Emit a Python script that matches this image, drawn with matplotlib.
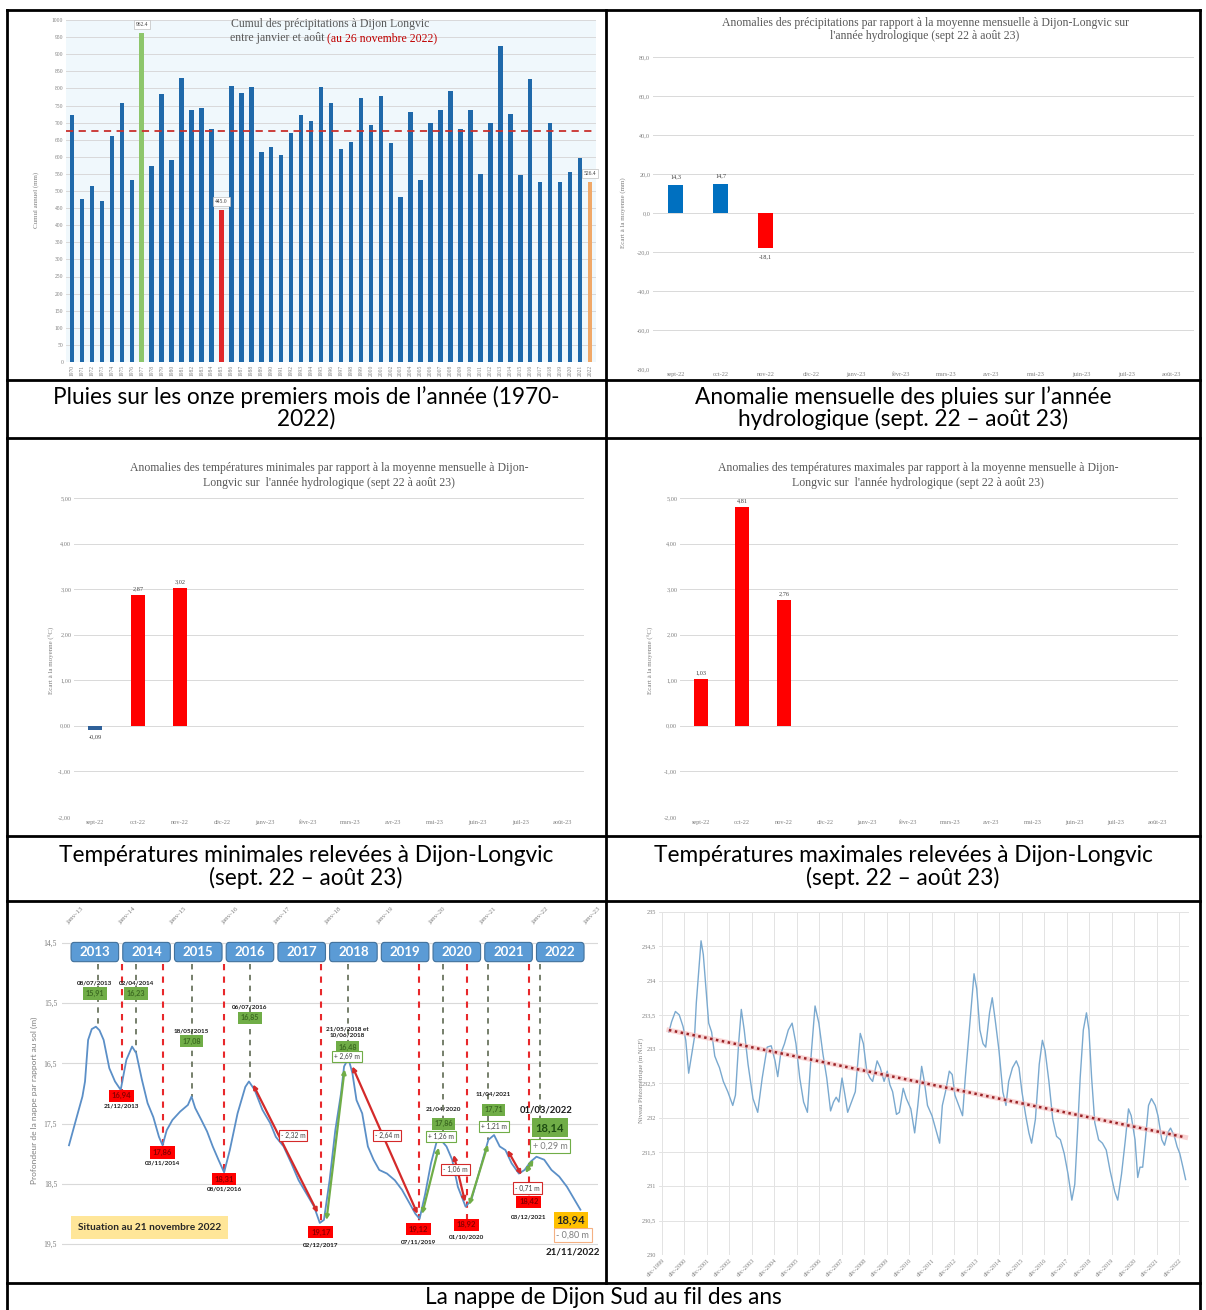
import numpy as np
import matplotlib.pyplot as plt
from matplotlib.patches import FancyBboxPatch
from matplotlib.lines import Line2D

W, H = 1206, 1310
plt.rcParams['font.family'] = ['Liberation Serif', 'DejaVu Serif']

# ---------- données ----------
annees = list(range(1970, 2023))
cumul_pluie = [722, 477, 515, 472, 660, 756, 533, 962.4, 574, 783,
               590, 829, 738, 742, 682, 445.0, 807, 788, 805, 615,
               629, 605, 671, 723, 704, 805, 756, 622, 644, 771,
               692, 778, 641, 482, 732, 533, 699, 737, 793, 682,
               737, 549, 699, 923, 725, 547, 827, 526, 699, 526,
               557, 597, 526.4]

mois = ["sept-22", "oct-22", "nov-22", "déc-22", "janv-23", "févr-23",
        "mars-23", "avr-23", "mai-23", "juin-23", "juil-23", "août-23"]
anom_pluie = [14.3, 14.7, -18.1]
anom_tmin = [-0.09, 2.87, 3.02]
anom_tmax = [1.03, 4.81, 2.76]

# nappe de Dijon Sud : profondeur (m) 2013-2022
nappe_t = [2013.00, 2013.15, 2013.26, 2013.31, 2013.37, 2013.44, 2013.52, 2013.59, 2013.67, 2013.78,
           2013.89, 2014.00, 2014.11, 2014.22, 2014.30, 2014.41, 2014.52, 2014.63, 2014.74, 2014.81,
           2014.89, 2015.00, 2015.15, 2015.30, 2015.37, 2015.44, 2015.56, 2015.67, 2015.78, 2015.89,
           2016.00, 2016.11, 2016.26, 2016.41, 2016.48, 2016.59, 2016.74, 2016.89, 2017.00, 2017.15,
           2017.30, 2017.44, 2017.59, 2017.74, 2017.85, 2017.93, 2018.04, 2018.15, 2018.26, 2018.32,
           2018.37, 2018.42, 2018.48, 2018.56, 2018.67, 2018.78, 2018.89, 2019.00, 2019.15, 2019.30,
           2019.44, 2019.59, 2019.70, 2019.78, 2019.89, 2020.00, 2020.11, 2020.19, 2020.30, 2020.41,
           2020.52, 2020.67, 2020.78, 2020.89, 2021.00, 2021.11, 2021.22, 2021.33, 2021.44, 2021.56,
           2021.70, 2021.81, 2021.93, 2022.04, 2022.19, 2022.33, 2022.48, 2022.63, 2022.78, 2022.89]
nappe_prof = [17.86, 17.39, 17.05, 16.80, 16.11, 15.93, 15.89, 15.95, 16.11, 16.58,
              16.80, 16.94, 16.44, 16.22, 16.33, 16.77, 17.16, 17.39, 17.72, 17.86,
              17.61, 17.44, 17.30, 17.19, 17.05, 17.24, 17.44, 17.63, 17.88, 18.10,
              18.31, 17.94, 17.33, 16.89, 16.80, 16.94, 17.27, 17.49, 17.72, 17.88,
              18.16, 18.44, 18.66, 18.88, 19.15, 19.10, 18.44, 17.61, 17.00, 16.55,
              16.47, 16.47, 16.66, 17.11, 17.33, 17.88, 18.10, 18.27, 18.33, 18.44,
              18.60, 18.83, 19.00, 19.08, 18.66, 18.16, 17.80, 17.77, 17.88, 18.10,
              18.55, 18.88, 18.77, 18.44, 18.10, 17.77, 17.69, 17.88, 17.94, 18.16,
              18.33, 18.27, 18.13, 18.05, 18.10, 18.27, 18.38, 18.55, 18.77, 18.93]

annees_nappe = list(range(2013, 2023))
pic_t = [2013.56, 2014.30, 2015.37, 2016.50, 2018.39, 2020.24, 2021.11, 2022.11]
pic_date = ["08/07/2013", "02/04/2014", "18/05/2015", "06/07/2016",
            "21/05/2018 et\n10/06/2018", "21/04/2020", "11/04/2021", "01/03/2022"]
pic_val = ["15,91", "16,23", "17,08", "16,85", "16,48", "17,86", "17,71", "18,14"]
creux_t = [2014.02, 2014.81, 2016.00, 2017.87, 2019.76, 2020.69, 2021.89]
creux_date = ["21/12/2013", "03/11/2014", "08/01/2016", "02/12/2017",
              "07/11/2019", "01/10/2020", "03/12/2021"]
creux_val = ["16,94", "17,86", "18,31", "19,17", "19,12", "18,92", "18,42"]
ecarts = ["- 2,32 m", "+ 2,69 m", "- 2,64 m", "+ 1,26 m", "- 1,06 m",
          "+ 1,21 m", "- 0,71 m", "+ 0,29 m", "- 0,80 m"]

# niveau piézométrique (m NGF)
piezo_t = [2000.23, 2000.35, 2000.52, 2000.69, 2000.86, 2000.98, 2001.11, 2001.25, 2001.37, 2001.45,
           2001.59, 2001.66, 2001.76, 2001.88, 2002.00, 2002.13, 2002.27, 2002.39, 2002.48, 2002.65,
           2002.85, 2003.07, 2003.19, 2003.33, 2003.45, 2003.58, 2003.75, 2003.97, 2004.18, 2004.38,
           2004.60, 2004.78, 2004.95, 2005.07, 2005.20, 2005.37, 2005.54, 2005.71, 2005.88, 2006.05,
           2006.22, 2006.39, 2006.56, 2006.73, 2006.90, 2007.08, 2007.25, 2007.42, 2007.55, 2007.67,
           2007.79, 2007.93, 2008.06, 2008.18, 2008.35, 2008.52, 2008.74, 2008.88, 2009.03, 2009.17,
           2009.29, 2009.49, 2009.63, 2009.80, 2009.94, 2010.06, 2010.18, 2010.35, 2010.48, 2010.65,
           2010.79, 2010.99, 2011.16, 2011.30, 2011.47, 2011.59, 2011.73, 2011.93, 2012.10, 2012.27,
           2012.39, 2012.53, 2012.70, 2012.83, 2012.95, 2013.12, 2013.29, 2013.41, 2013.55, 2013.69,
           2013.80, 2013.92, 2014.06, 2014.20, 2014.32, 2014.49, 2014.61, 2014.74, 2014.91, 2015.08,
           2015.22, 2015.34, 2015.51, 2015.68, 2015.80, 2015.93, 2016.10, 2016.24, 2016.36, 2016.53,
           2016.70, 2016.84, 2016.96, 2017.13, 2017.30, 2017.47, 2017.64, 2017.81, 2017.98, 2018.15,
           2018.28, 2018.40, 2018.52, 2018.66, 2018.80, 2018.91, 2019.03, 2019.17, 2019.34, 2019.51,
           2019.68, 2019.85, 2020.06, 2020.19, 2020.36, 2020.53, 2020.67, 2020.79, 2020.96, 2021.08,
           2021.18, 2021.30, 2021.42, 2021.56, 2021.69, 2021.86, 2021.98, 2022.15, 2022.27, 2022.41,
           2022.54, 2022.71, 2022.83, 2022.95, 2023.09, 2023.21]
piezo_niv = [233.25, 233.40, 233.55, 233.50, 233.33, 233.13, 232.65, 232.93, 233.18, 233.68,
             234.28, 234.58, 234.38, 233.88, 233.38, 233.25, 232.90, 232.80, 232.73, 232.53,
             232.38, 232.18, 232.33, 233.08, 233.58, 233.28, 232.78, 232.28, 232.08, 232.58,
             233.03, 233.05, 232.83, 232.60, 232.93, 233.08, 233.28, 233.38, 233.08, 232.58,
             232.23, 232.08, 232.93, 233.63, 233.38, 232.93, 232.58, 232.10, 232.23, 232.30,
             232.23, 232.58, 232.33, 232.08, 232.23, 232.38, 233.23, 233.08, 232.68, 232.58,
             232.53, 232.83, 232.73, 232.53, 232.68, 232.48, 232.38, 232.05, 232.08, 232.43,
             232.28, 232.13, 231.78, 232.18, 232.75, 232.53, 232.18, 232.03, 231.83, 231.63,
             232.18, 232.38, 232.68, 232.63, 232.33, 232.18, 232.03, 232.58, 233.13, 233.68,
             234.10, 233.88, 233.28, 233.08, 233.03, 233.53, 233.75, 233.43, 232.98, 232.38,
             232.18, 232.53, 232.73, 232.83, 232.73, 232.38, 232.03, 231.78, 231.63, 231.98,
             232.78, 233.13, 232.98, 232.53, 231.98, 231.73, 231.68, 231.48, 231.18, 230.80,
             231.03, 231.78, 232.58, 233.28, 233.53, 233.28, 232.58, 231.93, 231.68, 231.63,
             231.53, 231.23, 230.92, 230.80, 231.18, 231.68, 232.13, 232.03, 231.68, 231.13,
             231.28, 231.28, 231.68, 232.18, 232.28, 232.18, 232.03, 231.68, 231.60, 231.78,
             231.85, 231.73, 231.58, 231.48, 231.28, 231.10]
piezo_ticks = ["déc-%d" % a for a in range(1999, 2023)]

fig = plt.figure(figsize=(W / 100, H / 100), dpi=100)


def px_ax(x0, y0, x1, y1):
    return fig.add_axes([x0 / W, 1 - y1 / H, (x1 - x0) / W, (y1 - y0) / H])


def ftext(x, y, s, **kw):
    return fig.text(x / W, 1 - y / H, s, **kw)


def excel_style(ax, fs=4.5):
    for sp in ax.spines.values():
        sp.set_visible(False)
    ax.tick_params(length=0, labelsize=fs, labelcolor='#7f7f7f', pad=2)
    ax.grid(axis='y', color='#d9d9d9', lw=0.7)
    ax.set_axisbelow(True)


def fr(v, n):
    return f"{v:.{n}f}".replace('.', ',')


GRIS = '#595959'

# ---------- 1. cumul des pluies ----------
ax1 = px_ax(66, 20, 596, 362)
x1 = np.arange(len(annees))
coul1 = ['#1f69aa'] * len(annees)
coul1[annees.index(1977)] = '#8dc66b'
coul1[annees.index(1985)] = '#e0282a'
coul1[-1] = '#f0a868'
ax1.bar(x1, cumul_pluie, width=0.45, color=coul1, zorder=2)
ax1.set_facecolor('#f0f8fc')
ax1.set_xlim(-0.6, len(annees) - 0.4)
ax1.set_ylim(0, 1000)
ax1.set_yticks(range(0, 1001, 50))
ax1.set_xticks(x1)
ax1.set_xticklabels(annees, rotation=90, fontsize=3.6)
excel_style(ax1, 4)
moy = np.mean(cumul_pluie[:-1])
ax1.axhline(moy, color='#c9302c', ls=(0, (4, 3)), lw=1.3, zorder=3)
for a in (1977, 1985, 2022):
    i = annees.index(a)
    v = cumul_pluie[i]
    ax1.text(i, v + 24, f"{v:.1f}", ha='center', va='center', fontsize=4, color='#404040', zorder=4,
             bbox=dict(boxstyle='square,pad=0.35', fc='white', ec='#bfbfbf', lw=0.5))
ftext(330, 24, "Cumul des précipitations à Dijon Longvic", ha='center', va='center', fontsize=8.5, color=GRIS)
ftext(327, 38, "entre janvier et août ", ha='right', va='center', fontsize=8.5, color=GRIS)
ftext(327, 38, "(au 26 novembre 2022)", ha='left', va='center', fontsize=8.5, color='#c00000')
ftext(36, 200, "Cumul annuel (mm)", rotation=90, ha='center', va='center', fontsize=5, color='#7f7f7f')

# ---------- 2. anomalies pluies ----------
ax2 = px_ax(653, 57, 1194, 369)
x2 = np.arange(len(mois))
ax2.bar(x2[:len(anom_pluie)], anom_pluie, width=0.33,
        color=['#0070c0' if v > 0 else '#ff0000' for v in anom_pluie], zorder=2)
ax2.set_xlim(-0.5, len(mois) - 0.5)
ax2.set_ylim(-80, 80)
ax2.set_yticks(range(-80, 81, 20))
ax2.set_yticklabels([fr(v, 1) for v in range(-80, 81, 20)])
ax2.set_xticks(x2)
ax2.set_xticklabels(mois)
excel_style(ax2, 4.5)
for i, v in enumerate(anom_pluie):
    ax2.text(i, v + (3 if v > 0 else -3), fr(v, 1), ha='center', va='bottom' if v > 0 else 'top',
             fontsize=4.5, color='#404040')
ftext(925, 23, "Anomalies des précipitations par rapport à la moyenne mensuelle à Dijon-Longvic sur",
      ha='center', va='center', fontsize=8.5, color=GRIS)
ftext(925, 36, "l'année hydrologique (sept 22 à août 23)", ha='center', va='center', fontsize=8.5, color=GRIS)
ftext(623, 213, "Ecart à la moyenne (mm)", rotation=90, ha='center', va='center', fontsize=5, color='#7f7f7f')


# ---------- 3 et 4. anomalies températures ----------
def temp_panel(box, vals, titre, cx, ylab_x):
    ax = px_ax(*box)
    x = np.arange(len(mois))
    ax.bar(x[:len(vals)], vals, width=0.33,
           color=['#ff0000' if v > 0 else '#2e6099' for v in vals], zorder=2)
    ax.set_xlim(-0.5, len(mois) - 0.5)
    ax.set_ylim(-2, 5)
    ax.set_yticks(range(-2, 6))
    ax.set_yticklabels([fr(v, 2) for v in range(-2, 6)])
    ax.set_xticks(x)
    ax.set_xticklabels(mois)
    excel_style(ax, 4.5)
    for i, v in enumerate(vals):
        ax.text(i, v + (0.08 if v > 0 else -0.1), fr(v, 2), ha='center', va='bottom' if v > 0 else 'top',
                fontsize=4.5, color='#404040')
    ftext(cx, 468, "Anomalies des températures %s par rapport à la moyenne mensuelle à Dijon-" % titre,
          ha='center', va='center', fontsize=8.5, color=GRIS)
    ftext(cx, 483, "Longvic sur  l'année hydrologique (sept 22 à août 23)",
          ha='center', va='center', fontsize=8.5, color=GRIS)
    ftext(ylab_x, 660, "Ecart à la moyenne (°C)", rotation=90, ha='center', va='center',
          fontsize=5, color='#7f7f7f')


temp_panel((74, 498, 584, 817), anom_tmin, "minimales", 329, 52)
temp_panel((680, 498, 1178, 817), anom_tmax, "maximales", 918, 651)

# ---------- 5. nappe de Dijon Sud ----------
ax5 = px_ax(62, 930, 598, 1272)
ax5.set_xlim(2012.865, 2023.23)
ax5.set_ylim(19.965, 14.284)
for sp in ax5.spines.values():
    sp.set_visible(False)
ax5.set_yticks([14.5, 15.5, 16.5, 17.5, 18.5, 19.5])
ax5.set_yticklabels(["14,5", "15,5", "16,5", "17,5", "18,5", "19,5"])
ax5.tick_params(length=0, labelsize=5.5, labelcolor='#7f7f7f')
ax5.grid(axis='y', color='#d9d9d9', lw=0.8)
ax5.xaxis.tick_top()
ax5.set_xticks(annees_nappe + [2023])
ax5.set_xticklabels(["janv-%02d" % (a % 100) for a in annees_nappe + [2023]], rotation=45,
                    ha='left', va='bottom', rotation_mode='anchor', fontsize=5, color='#7f7f7f')
ax5.plot(nappe_t, nappe_prof, color='#5b8fc7', lw=1.3, zorder=3)

for a in annees_nappe:
    ax5.add_patch(FancyBboxPatch((a + 0.04, 14.49), 0.92, 0.32,
                                 boxstyle='round,pad=0,rounding_size=0.06',
                                 fc='#5b9bd5', ec='#41719c', lw=0.8, zorder=4))
    ax5.text(a + 0.5, 14.65, str(a), ha='center', va='center', color='white',
             fontsize=9.5, fontweight='bold', family='Lato', zorder=5)

lab = dict(family='Lato', fontweight='bold', ha='center', va='center', zorder=6)
# décalage horizontal, position de la date, position de la valeur
pic_pos = [(-0.06, 15.16, 15.34), (0.0, 15.16, 15.34), (0.0, 15.96, 16.13), (0.0, 15.57, 15.74),
           (0.0, 15.98, 16.23), (0.0, 17.26, 17.50), (0.1, 17.01, 17.27), (0.12, 17.27, 17.57)]
for k, (t, date, val) in enumerate(zip(pic_t, pic_date, pic_val)):
    dx, dd, bd = pic_pos[k]
    ax5.plot([t, t], [14.85, np.interp(t, nappe_t, nappe_prof)], color='#6b7560',
             ls=(0, (3, 3)), lw=1.3, zorder=2)
    big = k == len(pic_t) - 1
    ax5.text(t + dx, dd, date, fontsize=6.8 if big else 4.6, color='#1a1a1a', **lab)
    ax5.text(t + (0.19 if big else dx), bd, val, fontsize=8 if big else 5.2,
             color='#1e4d12' if big else '#3d6b22',
             bbox=dict(boxstyle='square,pad=0.35', fc='#70ad47', ec='none'), **lab)

creux_pos = [(17.04, 17.21), (17.98, 18.16), (18.42, 18.59), (19.30, 19.51),
             (19.25, 19.46), (19.18, 19.38), (18.80, 19.05)]
for k, (t, date, val) in enumerate(zip(creux_t, creux_date, creux_val)):
    bd, dd = creux_pos[k]
    ax5.plot([t, t], [14.85, bd - 0.08], color='#e8282b', ls=(0, (3, 3)), lw=1.5, zorder=2)
    ax5.text(t, bd, val, fontsize=5.5, color='#8b0000',
             bbox=dict(boxstyle='square,pad=0.35', fc='#ff0000', ec='none'), **lab)
    ax5.text(t, dd, date, fontsize=4.6, color='#1a1a1a', **lab)

fleches = [(2016.56, 16.85, 2017.81, 18.98, '#d42a2a'),
           (2017.98, 19.10, 2018.33, 16.60, '#70ad47'),
           (2018.48, 16.55, 2019.74, 19.00, '#d42a2a'),
           (2019.83, 19.00, 2020.15, 17.90, '#70ad47'),
           (2020.44, 18.02, 2020.66, 18.80, '#d42a2a'),
           (2020.74, 18.85, 2021.10, 17.85, '#70ad47'),
           (2021.48, 17.94, 2021.75, 18.35, '#d42a2a'),
           (2021.83, 18.32, 2021.98, 18.10, '#70ad47')]
for t0, d0, t1, d1, c in fleches:
    ax5.annotate('', xy=(t1, d1), xytext=(t0, d0), zorder=5,
                 arrowprops=dict(arrowstyle='<|-|>', color=c, lw=1.6, mutation_scale=6,
                                 shrinkA=0, shrinkB=0))

ecart_pos = [(2017.33, 17.69, '#d42a2a'), (2018.37, 16.39, '#70ad47'), (2019.15, 17.69, '#d42a2a'),
             (2020.19, 17.72, '#70ad47'), (2020.48, 18.27, '#d42a2a'), (2021.22, 17.55, '#70ad47'),
             (2021.87, 18.57, '#d42a2a'), (2022.30, 17.87, '#70ad47'), (2022.74, 19.35, '#f4b183')]
for s, (t, d, c) in zip(ecarts, ecart_pos):
    big = s in ("+ 0,29 m", "- 0,80 m")
    ax5.text(t, d, s, fontsize=6.5 if big else 4.8, color='#7f7f7f' if big else '#404040',
             family='Lato', ha='center', va='center', zorder=6,
             bbox=dict(boxstyle='square,pad=0.3', fc='white', ec=c, lw=0.8))

ax5.text(2014.56, 19.23, "Situation au 21 novembre 2022", fontsize=7.3, color='#262626',
         bbox=dict(boxstyle='square,pad=0.7', fc='#ffe699', ec='none'), **lab)
ax5.text(2022.70, 19.10, "18,94", fontsize=8, color='#262626',
         bbox=dict(boxstyle='square,pad=0.25', fc='#ffc000', ec='none'), **lab)
ax5.text(2022.74, 19.63, "21/11/2022", fontsize=7, color='#1a1a1a', **lab)
ftext(34, 1100, "Profondeur de la nappe par rapport au sol (m)", rotation=90, ha='center', va='center',
      fontsize=6, color='#7f7f7f', family='Lato')

# ---------- 6. niveau piézométrique ----------
ax6 = px_ax(659, 912, 1189, 1255)
ax6.set_xlim(1999.79, 2023.36)
ax6.set_ylim(230, 235)
for sp in ax6.spines.values():
    sp.set_visible(False)
niv_ticks = np.arange(230, 235.01, 0.5)
ax6.set_yticks(niv_ticks)
ax6.set_yticklabels([fr(v, 1).replace(',0', '') for v in niv_ticks])
tick_t = [1999.92 + i for i in range(len(piezo_ticks))]
ax6.set_xticks(tick_t)
ax6.set_xticklabels(piezo_ticks, rotation=45, ha='right', va='top', rotation_mode='anchor', fontsize=4.3)
ax6.tick_params(length=0, labelsize=4.5, labelcolor='#7f7f7f', pad=2)
ax6.grid(color='#e3e3e3', lw=0.7)
ax6.set_axisbelow(True)
ax6.plot(piezo_t, piezo_niv, color='#7aa9cf', lw=1.0, zorder=3)
coef = np.polyfit(piezo_t, piezo_niv, 1)
tt = np.array([piezo_t[0], piezo_t[-1]])
ax6.plot(tt, np.polyval(coef, tt), color='#f5b8b8', lw=3.5, alpha=0.6, zorder=4)
ax6.plot(tt, np.polyval(coef, tt), color='#9b2226', lw=1.8, ls=(0, (1, 1.4)), zorder=5)
ftext(641, 1080, "Niveau Piézométrique (m NGF)", rotation=90, ha='center', va='center',
      fontsize=4.8, color='#7f7f7f')


# ---------- tableau ----------
def hline(y, x0=7, x1=1200):
    fig.add_artist(Line2D([x0 / W, x1 / W], [1 - y / H, 1 - y / H], color='black', lw=2))


def vline(x, y0, y1):
    fig.add_artist(Line2D([x / W, x / W], [1 - y0 / H, 1 - y1 / H], color='black', lw=2))


for y in (10, 380, 438, 836, 901, 1283):
    hline(y)
vline(7, 10, 1310)
vline(1200, 10, 1310)
vline(606, 10, 1283)

cap = dict(ha='center', va='center', fontsize=16.3, family='Lato', color='black')
ftext(306, 397, "Pluies sur les onze premiers mois de l’année (1970-", **cap)
ftext(306, 419, "2022)", **cap)
ftext(903, 397, "Anomalie mensuelle des pluies sur l’année", **cap)
ftext(903, 419, "hydrologique (sept. 22 – août 23)", **cap)
ftext(306, 855, "Températures minimales relevées à Dijon-Longvic", **cap)
ftext(306, 878, "(sept. 22 – août 23)", **cap)
ftext(903, 855, "Températures maximales relevées à Dijon-Longvic", **cap)
ftext(903, 878, "(sept. 22 – août 23)", **cap)
ftext(603, 1297, "La nappe de Dijon Sud au fil des ans", **cap)

fig.savefig("out.png", dpi=100)
